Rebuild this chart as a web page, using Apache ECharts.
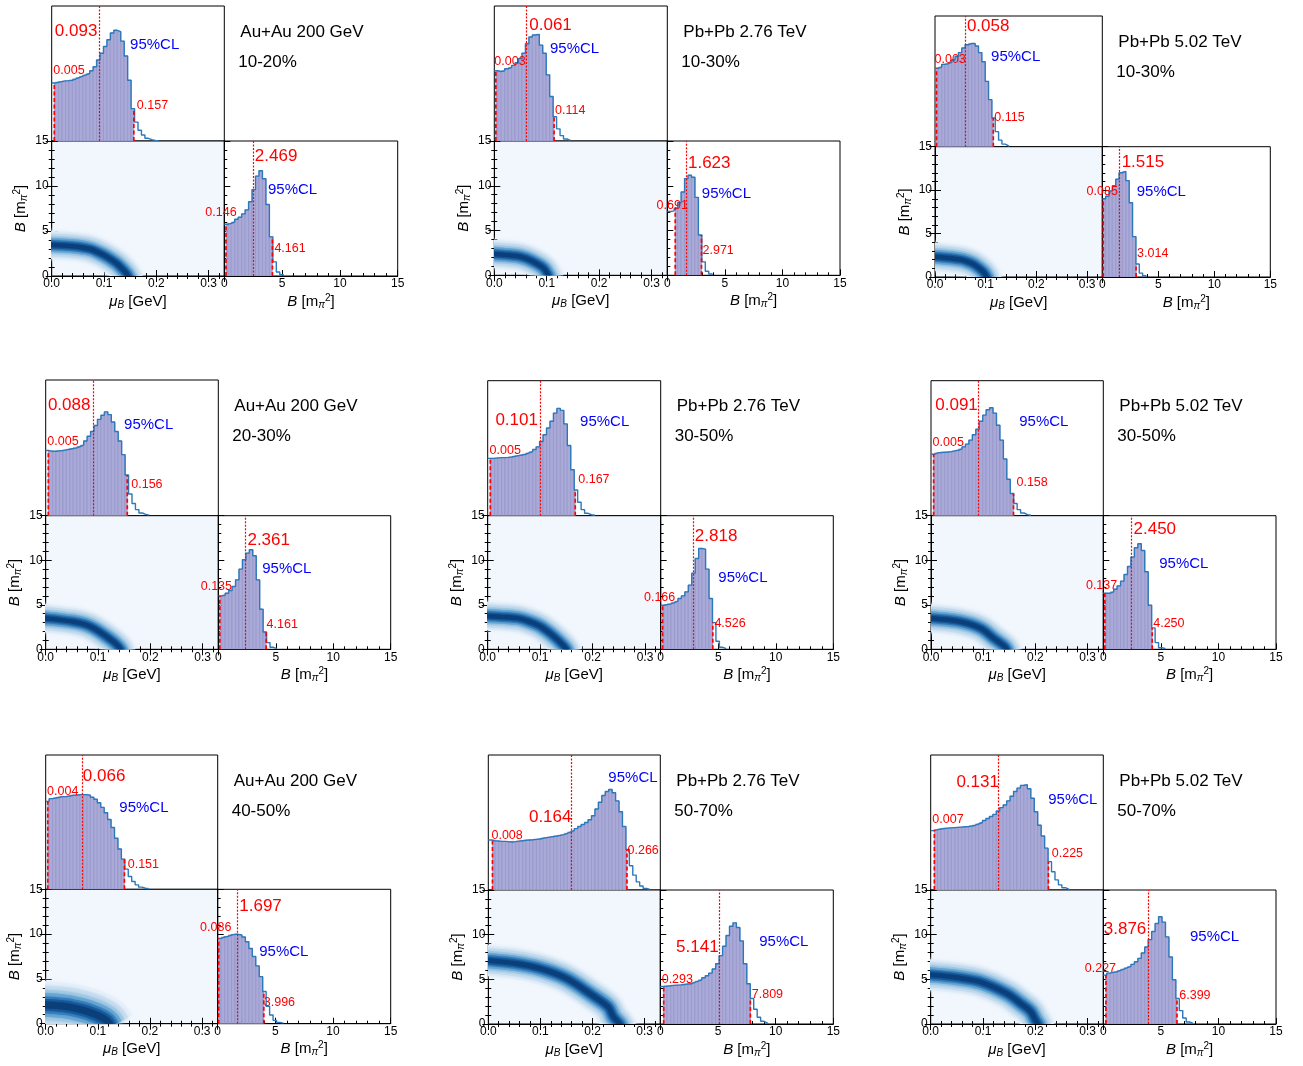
<!DOCTYPE html>
<html><head><meta charset="utf-8">
<script src="https://cdn.jsdelivr.net/npm/echarts@6/dist/echarts.min.js"></script>
<style>html,body{margin:0;padding:0;background:#fff}#c{width:1303px;height:1066px}</style>
</head><body><div id="c"></div>
<script>
// ---------------- DATA ----------------
const MU_MAX = 0.33, B_MAX = 15, MU_BIN = 0.0066, B_BIN = 0.3;
const muTicks = [0, 0.1, 0.2, 0.3];
const bTicks = [0, 5, 10, 15];
const systems = ['Au+Au 200 GeV', 'Pb+Pb 2.76 TeV', 'Pb+Pb 5.02 TeV',
                 'Au+Au 200 GeV', 'Pb+Pb 2.76 TeV', 'Pb+Pb 5.02 TeV',
                 'Au+Au 200 GeV', 'Pb+Pb 2.76 TeV', 'Pb+Pb 5.02 TeV'];
const centralities = ['10-20%', '10-30%', '10-30%', '20-30%', '30-50%', '30-50%', '40-50%', '50-70%', '50-70%'];

// posterior histograms of mu_B (bin width MU_BIN, from 0)
const muHist1 = [0.43,0.435,0.44,0.445,0.447,0.45,0.46,0.47,0.48,0.49,0.50,0.52,0.55,0.60,0.65,0.70,0.75,0.80,0.82,0.81,0.74,0.63,0.45,0.24,0.14,0.08,0.045,0.02,0.01,0.005,0.003];
const muHist2 = [0.52,0.515,0.52,0.535,0.545,0.56,0.58,0.61,0.65,0.72,0.77,0.785,0.79,0.71,0.65,0.49,0.33,0.18,0.09,0.04,0.015,0.005];
const muHist3 = [0.60,0.61,0.63,0.635,0.645,0.665,0.69,0.72,0.755,0.78,0.79,0.79,0.77,0.72,0.65,0.50,0.36,0.22,0.115,0.05,0.02,0.007];
const muHist4 = [0.48,0.475,0.475,0.478,0.48,0.485,0.49,0.495,0.50,0.51,0.52,0.55,0.585,0.62,0.665,0.71,0.74,0.765,0.745,0.69,0.62,0.55,0.45,0.30,0.16,0.09,0.045,0.02,0.01,0.004];
const muHist5 = [0.425,0.425,0.428,0.43,0.43,0.432,0.435,0.44,0.445,0.45,0.455,0.465,0.475,0.49,0.51,0.55,0.60,0.65,0.70,0.76,0.795,0.78,0.68,0.52,0.34,0.19,0.10,0.045,0.018,0.007,0.003];
const muHist6 = [0.455,0.465,0.468,0.47,0.472,0.475,0.48,0.485,0.495,0.51,0.53,0.56,0.60,0.64,0.70,0.745,0.785,0.80,0.76,0.67,0.56,0.42,0.27,0.165,0.09,0.045,0.02,0.008,0.003];
const muHist7 = [0.655,0.675,0.68,0.685,0.69,0.69,0.695,0.70,0.70,0.705,0.705,0.705,0.70,0.685,0.67,0.645,0.61,0.57,0.52,0.46,0.38,0.30,0.225,0.15,0.095,0.058,0.033,0.016,0.008,0.004];
const muHist8 = [0.37,0.365,0.363,0.36,0.36,0.358,0.356,0.358,0.362,0.365,0.368,0.37,0.372,0.375,0.378,0.383,0.388,0.392,0.396,0.40,0.405,0.41,0.42,0.43,0.44,0.455,0.47,0.485,0.50,0.52,0.55,0.60,0.65,0.70,0.73,0.745,0.72,0.66,0.58,0.47,0.30,0.18,0.11,0.06,0.03,0.012,0.005];
const muHist9 = [0.44,0.447,0.452,0.456,0.458,0.46,0.462,0.464,0.466,0.468,0.47,0.474,0.48,0.49,0.50,0.515,0.53,0.545,0.56,0.585,0.61,0.63,0.66,0.695,0.73,0.755,0.775,0.78,0.75,0.68,0.58,0.48,0.40,0.31,0.21,0.135,0.075,0.038,0.017,0.007];

// posterior histograms of B (bin width B_BIN, from 0)
const bHist1 = [0.383,0.39,0.40,0.42,0.435,0.46,0.49,0.55,0.64,0.74,0.78,0.72,0.53,0.29,0.105,0.03,0.01];
const bHist2 = [0.475,0.48,0.50,0.54,0.62,0.72,0.745,0.73,0.58,0.30,0.10,0.03,0.01];
const bHist3 = [0.60,0.62,0.66,0.70,0.75,0.80,0.81,0.74,0.57,0.31,0.10,0.03,0.01];
const bHist4 = [0.40,0.405,0.42,0.44,0.47,0.52,0.60,0.67,0.72,0.745,0.70,0.52,0.30,0.13,0.05,0.015,0.005];
const bHist5 = [0.33,0.335,0.34,0.35,0.36,0.38,0.40,0.43,0.48,0.57,0.68,0.755,0.75,0.60,0.38,0.20,0.06,0.015,0.005];
const bHist6 = [0.42,0.42,0.43,0.45,0.475,0.51,0.56,0.62,0.69,0.76,0.79,0.74,0.58,0.33,0.16,0.05,0.012,0.004];
const bHist7 = [0.635,0.645,0.65,0.66,0.665,0.665,0.66,0.645,0.61,0.56,0.50,0.43,0.35,0.24,0.13,0.065,0.025,0.01,0.004];
const bHist8 = [0.28,0.283,0.285,0.288,0.29,0.292,0.295,0.298,0.30,0.31,0.32,0.33,0.345,0.36,0.38,0.41,0.45,0.51,0.58,0.66,0.73,0.755,0.72,0.62,0.45,0.30,0.19,0.11,0.05,0.02,0.007];
const bHist9 = [0.365,0.38,0.385,0.39,0.40,0.41,0.42,0.43,0.445,0.465,0.49,0.53,0.575,0.63,0.69,0.75,0.80,0.76,0.65,0.50,0.33,0.19,0.10,0.045,0.015,0.005];

// [lower 95%CL, median, upper 95%CL]
const muCL = [[0.005,0.093,0.157],[0.003,0.061,0.114],[0.003,0.058,0.115],[0.005,0.088,0.156],[0.005,0.101,0.167],[0.005,0.091,0.158],[0.004,0.066,0.151],[0.008,0.164,0.266],[0.007,0.131,0.225]];
const bCL = [[0.146,2.469,4.161],[0.691,1.623,2.971],[0.085,1.515,3.014],[0.135,2.361,4.161],[0.166,2.818,4.526],[0.137,2.450,4.250],[0.086,1.697,3.996],[0.293,5.141,7.809],[0.227,3.876,6.399]];

// ridge of the joint (mu_B, B) density
const ridge1 = [[-0.01,3.45],[0,3.44],[0.04,3.3],[0.073,3.0],[0.09,2.6],[0.105,2.15],[0.124,1.4],[0.14,0.48],[0.146,0],[0.15,-0.5]];
const ridge2 = [[-0.01,2.4],[0,2.38],[0.043,2.16],[0.06,1.9],[0.075,1.5],[0.094,0.8],[0.103,0],[0.106,-0.5]];
const ridge3 = [[-0.01,2.35],[0,2.34],[0.051,2.0],[0.065,1.75],[0.078,1.4],[0.095,0.6],[0.102,0],[0.105,-0.5]];
const ridge4 = [[-0.01,3.5],[0,3.48],[0.053,3.1],[0.075,2.8],[0.092,2.36],[0.117,1.4],[0.133,0.67],[0.143,0],[0.146,-0.5]];
const ridge5 = [[-0.01,3.76],[0,3.75],[0.056,3.5],[0.08,3.1],[0.101,2.55],[0.127,1.4],[0.143,0.5],[0.15,0],[0.153,-0.5]];
const ridge6 = [[-0.01,3.5],[0,3.48],[0.056,3.1],[0.095,2.36],[0.12,1.24],[0.14,0.37],[0.145,0],[0.148,-0.5]];
const ridge7 = [[-0.01,2.1],[0,2.1],[0.04,1.9],[0.072,1.5],[0.09,1.15],[0.104,0.8],[0.118,0.3],[0.125,-0.3]];
const ridge8 = [[-0.01,7.15],[0,7.1],[0.05,6.8],[0.1,6.2],[0.15,5.1],[0.2,3.2],[0.23,1.9],[0.24,0.8],[0.252,0],[0.256,-0.5]];
const ridge9 = [[-0.01,5.5],[0,5.5],[0.05,5.2],[0.095,4.7],[0.146,3.4],[0.172,2.3],[0.191,1.4],[0.2,0.45],[0.205,0],[0.208,-0.5]];

// ---------------- LAYOUT ----------------
// [left, top, width(mu), width(B), height(top hist), height(2D)]
const BOX = [
  [51.7,6,172.6,173.4,135,135],[494.3,6,173,172.7,135,134.3],[935,16,167.3,168,130.7,130.3],
  [45.7,380,172.6,172.4,135.7,133.6],[487.7,380.7,173,172.6,135,133.6],[931,380.7,172.3,172.7,135,133.6],
  [45.7,755,172,173,134.3,134.4],[488.3,755,172,173,135,134],[930.7,755,172.6,172.7,135,134]
];
// label placement: med/lo/hi = [dx px from line, y fraction, align]; cl = [x fraction, y fraction]
const LBL_MU = [
  {med:[-3,0.815,'right'],lo:[-1,0.52,'left'],hi:[3,0.26,'left'],cl:[0.454,0.71]},
  {med:[3,0.86,'left'],lo:[-1.5,0.587,'left'],hi:[1,0.224,'left'],cl:[0.322,0.68]},
  {med:[2.5,0.923,'left'],lo:[-2,0.669,'left'],hi:[1,0.222,'left'],cl:[0.335,0.684]},
  {med:[-1.3,0.816,'right'],lo:[-1,0.55,'left'],hi:[4,0.231,'left'],cl:[0.454,0.668]},
  {med:[-2.7,0.704,'right'],lo:[-0.7,0.481,'left'],hi:[3,0.27,'left'],cl:[0.534,0.692]},
  {med:[-0.7,0.815,'right'],lo:[-1,0.54,'left'],hi:[3,0.247,'left'],cl:[0.512,0.692]},
  {med:[2.7,0.838,'left'],lo:[-0.7,0.727,'left'],hi:[3.3,0.188,'left'],cl:[0.428,0.61]},
  {med:[-2.3,0.539,'right'],lo:[-1,0.405,'left'],hi:[0.6,0.291,'left'],cl:[0.698,0.832]},
  {med:[-0.3,0.795,'right'],lo:[-2,0.519,'left'],hi:[3.4,0.267,'left'],cl:[0.681,0.667]}
];
const LBL_B = [
  {med:[2,0.89,'left'],lo:[-5,0.467,'center'],hi:[2,0.2,'left'],cl:[0.252,0.637]},
  {med:[2,0.834,'left'],lo:[-3,0.518,'center'],hi:[1,0.183,'left'],cl:[0.2,0.61]},
  {med:[2.4,0.88,'left'],lo:[-1,0.652,'center'],hi:[1,0.182,'left'],cl:[0.205,0.655]},
  {med:[2,0.813,'left'],lo:[-3.5,0.469,'center'],hi:[0.5,0.182,'left'],cl:[0.255,0.6]},
  {med:[1.7,0.843,'left'],lo:[-3,0.386,'center'],hi:[1.6,0.195,'left'],cl:[0.334,0.536]},
  {med:[2,0.898,'left'],lo:[-3.3,0.476,'center'],hi:[1,0.195,'left'],cl:[0.324,0.638]},
  {med:[2,0.876,'left'],lo:[-3,0.715,'center'],hi:[0,0.16,'left'],cl:[0.24,0.536]},
  {med:[-1,0.572,'right'],lo:[-2,0.334,'left'],hi:[1.4,0.222,'left'],cl:[0.572,0.614]},
  {med:[-1.6,0.707,'right'],lo:[-5.5,0.416,'center'],hi:[2.3,0.216,'left'],cl:[0.502,0.651]}
];
const BAND_SCALE = [1,1,1,1,1,1,1.7,1.1,1.1];

const muHists = [muHist1,muHist2,muHist3,muHist4,muHist5,muHist6,muHist7,muHist8,muHist9];
const bHists = [bHist1,bHist2,bHist3,bHist4,bHist5,bHist6,bHist7,bHist8,bHist9];
const ridges = [ridge1,ridge2,ridge3,ridge4,ridge5,ridge6,ridge7,ridge8,ridge9];

// ---------------- CHART ----------------
const FONT = '"Liberation Sans", Arial, Helvetica, sans-serif';
const RED = '#ff0000', BLUE = '#0000ff';
const chart = echarts.init(document.getElementById('c'));
const grids = [], xAxes = [], yAxes = [], series = [];

const axLine = {show:true, lineStyle:{color:'#000', width:1}};
const axTick = {show:true, inside:true, length:6, lineStyle:{color:'#000', width:1}};
const minTick = {show:true, splitNumber:5, length:3, lineStyle:{color:'#000', width:1}};
const nameStyle = {fontSize:15, color:'#000', fontFamily:FONT, rich:{
  i:{fontSize:15, fontStyle:'italic', fontFamily:FONT, color:'#000'},
  s:{fontSize:10, fontStyle:'italic', fontFamily:FONT, color:'#000', verticalAlign:'bottom', padding:[7,0,0,0]},
  p:{fontSize:10, fontFamily:FONT, color:'#000', verticalAlign:'top', padding:[0,0,7,0]}
}};
const MU_NAME = '{i|μ}{s|B} [GeV]';
const B_NAME = '{i|B} [m{s|π}{p|2}]';
const lblStyle = {show:true, fontSize:12, color:'#000', fontFamily:FONT};

function ax(o){
  return Object.assign({type:'value', splitLine:{show:false}, axisLine:axLine, axisTick:axTick,
    minorTick:minTick, axisLabel:{show:false}}, o);
}
function fmtMu(v){ return muTicks.some(t => Math.abs(t - v) < 1e-9) ? v.toFixed(1) : ''; }

function histSeries(xi, yi, hist, bin, cl){
  const [lo, med, hi] = cl;
  const fill = {
    type:'custom', xAxisIndex:xi, yAxisIndex:yi, clip:true, silent:true, z:2,
    data: hist.map((v, i) => [i * bin, v]),
    renderItem: (params, api) => {
      let x0 = api.value(0), x1 = x0 + bin; const v = api.value(1);
      x0 = Math.max(x0, lo); x1 = Math.min(x1, hi);
      if (x1 <= x0 || v <= 0) return null;
      const a = api.coord([x0, v]), b = api.coord([x1, 0]);
      return {type:'rect', shape:{x:a[0], y:a[1], width:b[0]-a[0], height:b[1]-a[1]},
        style:{fill:'#aaaad8', stroke:'#8e8ec6', lineWidth:0.6}};
    }
  };
  const stepData = hist.map((v, i) => [i * bin, v]);
  stepData.push([hist.length * bin, 0]);
  const outline = {
    type:'line', xAxisIndex:xi, yAxisIndex:yi, step:'end', symbol:'none', silent:true, z:3,
    data: stepData, lineStyle:{color:'#2b78bb', width:1.4},
    markLine:{silent:true, symbol:['none','none'], label:{show:false},
      lineStyle:{color:RED, type:[2,1.5], width:1.2}, data:[{xAxis:med}]}
  };
  const hAt = x => hist[Math.min(hist.length - 1, Math.floor(x / bin))];
  const dash = x => ({type:'line', xAxisIndex:xi, yAxisIndex:yi, symbol:'none', silent:true, z:4,
    data:[[x, 0], [x, hAt(x)]], lineStyle:{color:RED, type:[4,2.5], width:1.7}});
  return [fill, outline, dash(lo), dash(hi)];
}

const bandW = [28, 23, 18, 14, 10, 7, 4];
const bandC = ['#e8f1fa', '#cde0f1', '#a3c9e4', '#6aa7d3', '#3780bd', '#185c9f', '#0b3f7a'];

for (let k = 0; k < 9; k++){
  const [L, T, W, Wb, H1, H2] = BOX[k];
  const g = 3 * k;
  grids.push({left:L, top:T, width:W, height:H1, show:true, borderColor:'#000', borderWidth:1, backgroundColor:'transparent'});
  grids.push({left:L, top:T+H1, width:W, height:H2, show:true, borderColor:'#000', borderWidth:1, backgroundColor:'#f2f7fd'});
  grids.push({left:L+W, top:T+H1, width:Wb, height:H2, show:true, borderColor:'#000', borderWidth:1, backgroundColor:'transparent'});

  // x axes: 4k top-hist, 4k+1 2D bottom, 4k+2 2D top, 4k+3 B hist
  xAxes.push(ax({gridIndex:g, min:0, max:MU_MAX, show:false}));
  xAxes.push(ax({gridIndex:g+1, position:'bottom', min:0, max:MU_MAX, interval:0.1,
    axisLabel:Object.assign({}, lblStyle, {margin:2, formatter:fmtMu, showMaxLabel:false}),
    name:MU_NAME, nameLocation:'middle', nameGap:17, nameTextStyle:nameStyle}));
  xAxes.push(ax({gridIndex:g+1, position:'top', min:0, max:MU_MAX, interval:0.1}));
  xAxes.push(ax({gridIndex:g+2, position:'bottom', min:0, max:B_MAX, interval:5,
    axisLabel:Object.assign({}, lblStyle, {margin:2}),
    name:B_NAME, nameLocation:'middle', nameGap:17, nameTextStyle:nameStyle}));

  // y axes: 5k top-hist, 5k+1 2D left, 5k+2 2D right, 5k+3 B count, 5k+4 B ticks
  yAxes.push(ax({gridIndex:g, min:0, max:1, show:false}));
  yAxes.push(ax({gridIndex:g+1, position:'left', min:0, max:B_MAX, interval:5,
    axisLabel:Object.assign({}, lblStyle, {margin:3}),
    name:B_NAME, nameLocation:'middle', nameRotate:90, nameGap:22, nameTextStyle:nameStyle}));
  yAxes.push(ax({gridIndex:g+1, position:'right', min:0, max:B_MAX, interval:5}));
  yAxes.push(ax({gridIndex:g+2, position:'left', min:0, max:1, show:false}));
  yAxes.push(ax({gridIndex:g+2, position:'left', min:0, max:B_MAX, interval:5}));

  // 2D density band: layered strokes along the ridge, clipped exactly to the panel
  series.push({type:'custom', xAxisIndex:4*k+1, yAxisIndex:5*k+1, clip:true, silent:true, z:1,
    data: ridges[k],
    renderItem: (params, api) => {
      if (params.dataIndex !== 0) return null;
      const pts = ridges[k].map(p => api.coord(p));
      return {type:'group', children: bandW.map((w, j) => ({
        type:'polyline', shape:{points:pts, smooth:0.35},
        style:{stroke:bandC[j], fill:null, lineWidth:w * BAND_SCALE[k], lineJoin:'round',
          shadowBlur: j < 3 ? 5 : 2, shadowColor:bandC[j]}
      }))};
    }
  });
  series.push(...histSeries(4*k, 5*k, muHists[k], MU_BIN, muCL[k]));
  series.push(...histSeries(4*k+3, 5*k+3, bHists[k], B_BIN, bCL[k]));
}

chart.setOption({
  animation:false, backgroundColor:'#fff',
  textStyle:{fontFamily:FONT},
  grid:grids, xAxis:xAxes, yAxis:yAxes, series:series
});

// ---------------- ANNOTATIONS ----------------
const graphics = [];
function txt(s, x, y, size, color, align){
  graphics.push({type:'text', x:x, y:y, z:100, zlevel:0, silent:true,
    style:{text:s, fill:color, fontSize:size, fontFamily:FONT, align:align, verticalAlign:'middle'}});
}
for (let k = 0; k < 9; k++){
  const sets = [[4*k, 5*k, muCL[k], LBL_MU[k], MU_MAX], [4*k+3, 5*k+3, bCL[k], LBL_B[k], B_MAX]];
  for (const [xi, yi, cl, lb, mx] of sets){
    const px = v => chart.convertToPixel({xAxisIndex:xi}, v);
    const py = f => chart.convertToPixel({yAxisIndex:yi}, f);
    const [lo, med, hi] = cl;
    txt(med.toFixed(3), px(med) + lb.med[0], py(lb.med[1]), 17, RED, lb.med[2]);
    txt(lo.toFixed(3), px(lo) + lb.lo[0], py(lb.lo[1]), 12.5, RED, lb.lo[2]);
    txt(hi.toFixed(3), px(hi) + lb.hi[0], py(lb.hi[1]), 12.5, RED, lb.hi[2]);
    txt('95%CL', px(lb.cl[0] * mx), py(lb.cl[1]), 15, BLUE, 'left');
  }
  const tx = chart.convertToPixel({xAxisIndex:4*k}, MU_MAX) + 16;
  const ty = chart.convertToPixel({yAxisIndex:5*k}, 1);
  txt(systems[k], tx, ty + 26, 17, '#000', 'left');
  txt(centralities[k], tx - 2, ty + 56, 17, '#000', 'left');
}
chart.setOption({graphic:{elements:graphics}});
</script>
</body></html>
